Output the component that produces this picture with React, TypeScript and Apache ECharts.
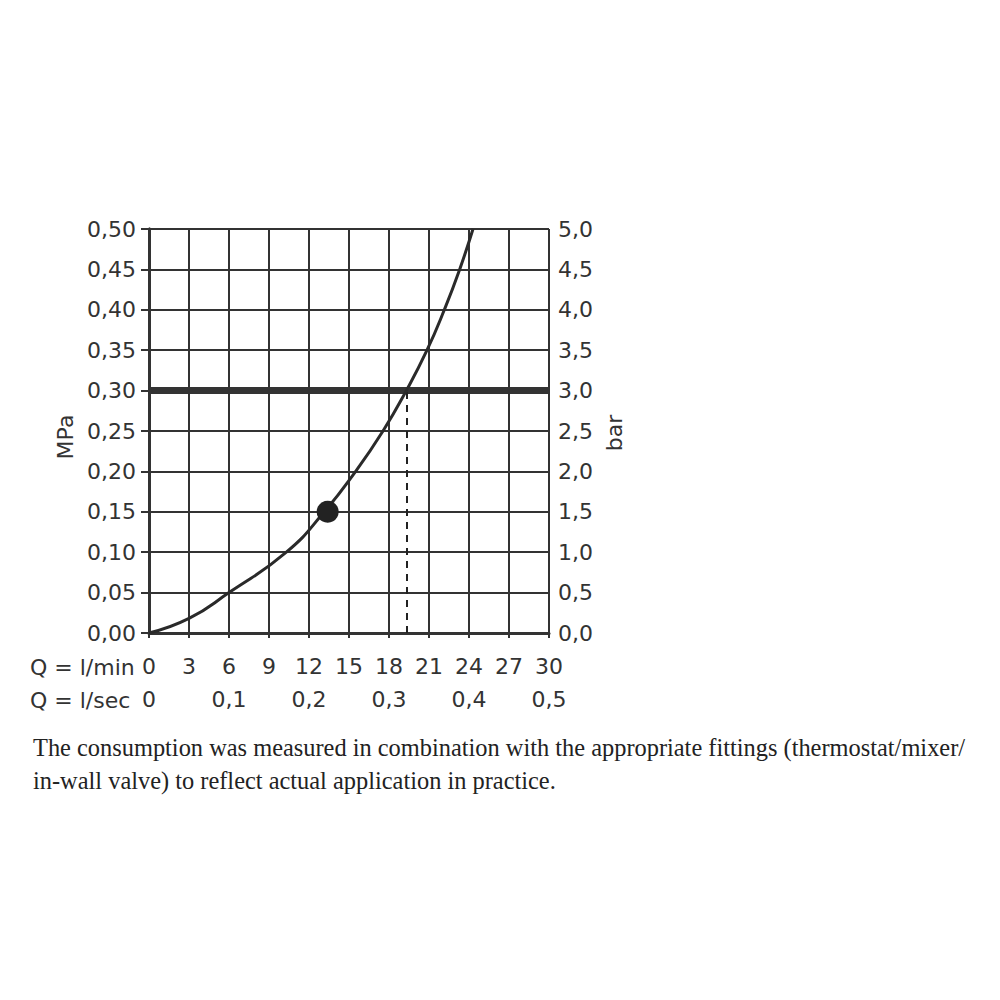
import React, { useEffect, useRef } from "react";
import * as echarts from "echarts";

// Flow (l/min) vs pressure (MPa) curve points
const curveFlow = [0, 3, 6, 10.3, 13.15, 15.5, 17.55, 19.3, 20.85, 22.15, 23.3, 24.3];
const curvePressure = [0, 0.018, 0.05, 0.1, 0.15, 0.2, 0.25, 0.3, 0.35, 0.4, 0.45, 0.5];

// operating point marker
const markerFlow = [13.4];
const markerPressure = [0.15];

// reference pressure line and its intersection
const refPressure = 0.3;
const refFlow = 19.35;

// tick labels
const mpaLabels = ["0,00", "0,05", "0,10", "0,15", "0,20", "0,25", "0,30", "0,35", "0,40", "0,45", "0,50"];
const barLabels = ["0,0", "0,5", "1,0", "1,5", "2,0", "2,5", "3,0", "3,5", "4,0", "4,5", "5,0"];
const lpmLabels = ["0", "3", "6", "9", "12", "15", "18", "21", "24", "27", "30"];
const lpsLabels = ["0", "0,1", "0,2", "0,3", "0,4", "0,5"];

const captionLines = [
  "The consumption was measured in combination with the appropriate fittings (thermostat/mixer/",
  "in-wall valve) to reflect actual application in practice.",
];

const INK = "#333333";
const FONT = "DejaVu Sans";
const FS = 22;

export default function App() {
  const ref = useRef<HTMLDivElement>(null);

  useEffect(() => {
    if (!ref.current) return;
    const chart = echarts.init(ref.current, undefined, { renderer: "svg" });
    const labelStyle = { color: INK, fontFamily: FONT, fontSize: FS };
    chart.setOption({
      animation: false,
      backgroundColor: "#ffffff",
      grid: { left: 149, right: 451, top: 229, bottom: 367, containLabel: false },
      xAxis: [
        {
          type: "value",
          min: 0,
          max: 30,
          interval: 3,
          position: "bottom",
          axisLine: { show: true, lineStyle: { color: INK, width: 3 } },
          axisTick: { show: true, length: 5, lineStyle: { color: INK, width: 2 } },
          splitLine: { show: true, lineStyle: { color: INK, width: 2 } },
          axisLabel: {
            ...labelStyle,
            margin: 22,
            formatter: (_v: number, i: number) => lpmLabels[i] ?? "",
          },
        },
        {
          type: "value",
          min: 0,
          max: 30,
          interval: 6,
          position: "bottom",
          offset: 33,
          axisLine: { show: false },
          axisTick: { show: false },
          splitLine: { show: false },
          axisLabel: {
            ...labelStyle,
            margin: 22,
            formatter: (_v: number, i: number) => lpsLabels[i] ?? "",
          },
        },
      ],
      yAxis: [
        {
          type: "value",
          min: 0,
          max: 0.5,
          interval: 0.05,
          position: "left",
          axisLine: { show: true, lineStyle: { color: INK, width: 3 } },
          axisTick: { show: true, length: 8, lineStyle: { color: INK, width: 2 } },
          splitLine: { show: true, lineStyle: { color: INK, width: 2 } },
          axisLabel: {
            ...labelStyle,
            margin: 13,
            formatter: (_v: number, i: number) => mpaLabels[i] ?? "",
          },
        },
        {
          type: "value",
          min: 0,
          max: 5,
          interval: 0.5,
          position: "right",
          axisLine: { show: true, lineStyle: { color: INK, width: 3 } },
          axisTick: { show: true, length: 6, lineStyle: { color: INK, width: 2 } },
          splitLine: { show: false },
          axisLabel: {
            ...labelStyle,
            margin: 9,
            formatter: (_v: number, i: number) => barLabels[i] ?? "",
          },
        },
      ],
      series: [
        {
          type: "line",
          xAxisIndex: 0,
          yAxisIndex: 0,
          data: [
            [0, refPressure],
            [30, refPressure],
          ],
          symbol: "none",
          lineStyle: { color: INK, width: 7 },
          z: 3,
        },
        {
          type: "line",
          xAxisIndex: 0,
          yAxisIndex: 0,
          data: [
            [refFlow, 0],
            [refFlow, refPressure],
          ],
          symbol: "none",
          lineStyle: { color: "#222222", width: 2, type: [7, 6] },
          z: 3,
        },
        {
          type: "line",
          xAxisIndex: 0,
          yAxisIndex: 0,
          data: curveFlow.map((q, i) => [q, curvePressure[i]]),
          smooth: 0.5,
          symbol: "none",
          lineStyle: { color: "#2a2a2a", width: 3 },
          z: 4,
        },
        {
          type: "scatter",
          xAxisIndex: 0,
          yAxisIndex: 0,
          data: markerFlow.map((q, i) => [q, markerPressure[i]]),
          symbolSize: 22,
          itemStyle: { color: "#222222", opacity: 1 },
          z: 5,
        },
      ],
      graphic: [
        {
          type: "text",
          x: 65,
          y: 437,
          rotation: Math.PI / 2,
          style: {
            text: "MPa",
            fill: INK,
            font: `${FS}px "${FONT}"`,
            align: "center",
            verticalAlign: "middle",
          },
        },
        {
          type: "text",
          x: 614,
          y: 433,
          rotation: Math.PI / 2,
          style: {
            text: "bar",
            fill: INK,
            font: `${FS}px "${FONT}"`,
            align: "center",
            verticalAlign: "middle",
          },
        },
        {
          type: "text",
          x: 30,
          y: 667,
          style: {
            text: "Q = l/min",
            fill: INK,
            font: `${FS}px "${FONT}"`,
            align: "left",
            verticalAlign: "middle",
          },
        },
        {
          type: "text",
          x: 30,
          y: 700,
          style: {
            text: "Q = l/sec",
            fill: INK,
            font: `${FS}px "${FONT}"`,
            align: "left",
            verticalAlign: "middle",
          },
        },
        {
          type: "text",
          x: 33,
          y: 747,
          style: {
            text: captionLines[0],
            fill: "#222222",
            font: `24.4px "Liberation Serif"`,
            align: "left",
            verticalAlign: "middle",
          },
        },
        {
          type: "text",
          x: 33,
          y: 780,
          style: {
            text: captionLines[1],
            fill: "#222222",
            font: `24.4px "Liberation Serif"`,
            align: "left",
            verticalAlign: "middle",
          },
        },
      ],
    });
    return () => chart.dispose();
  }, []);

  return (
    <div
      ref={ref}
      style={{ position: "fixed", left: 0, top: 0, width: 1000, height: 1000, background: "#fff" }}
    />
  );
}
